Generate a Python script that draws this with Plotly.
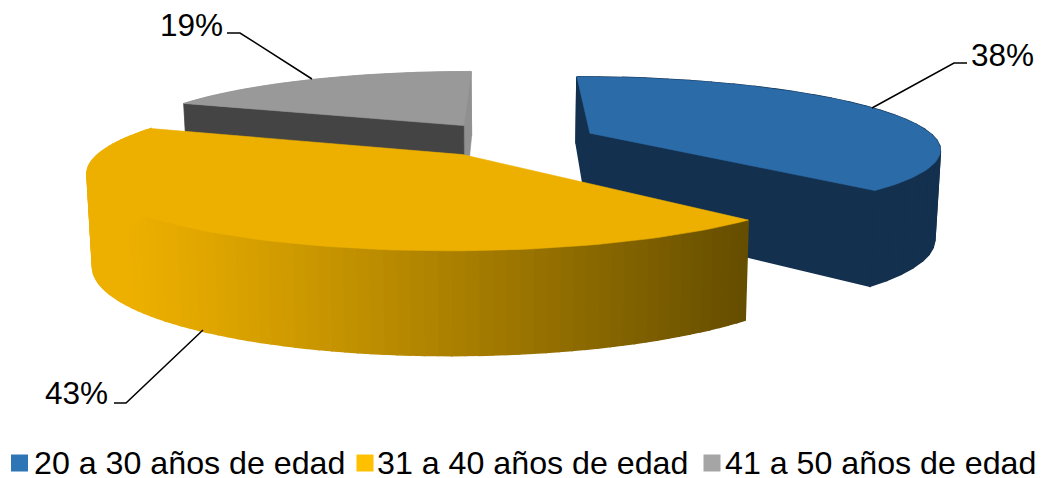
import math
import plotly.graph_objects as go

categories = ["20 a 30 años de edad", "31 a 40 años de edad", "41 a 50 años de edad"]
shares = [38, 43, 19]
legend_colors = ["#2E75B6", "#FFC000", "#A5A5A5"]
top_colors = ["#2B6CA8", "#EDB000", "#999999"]
wall_colors = ["#14304F", None, "#909090"]
cut_colors = ["#14304F", None, "#444444"]
slice_dx = [2, 6, 3]
slice_xscale = [0.99, 1.0, 0.97]
label_pos = [(1002, 55), (76, 393), (191, 25)]
leaders = [
    [(872, 108), (954, 63), (967, 63)],
    [(203, 330), (126, 403), (114, 403)],
    [(227, 33), (240, 33), (312, 79)],
]
legend_square_x = [19.5, 365, 712]
legend_text_x = [35, 378, 726]
LEGEND_Y = 463

W, H = 1042, 478
VX, VY, RX, RY, K, SHRINK, EXPLODE = 508, 139.5, 350, 70, 0.2, 0.987, 0.25
FONT = "Liberation Sans, Arial, sans-serif"


def depth(s):
    return 88 * (1 + 0.6 * (s - 1)) if s >= 1 else 88 * (1 - 1.39 * (1 - s))


def project(wx, wy, z, i, off):
    s = 1 / (1 - K * wy)
    m = SHRINK if z else 1
    ax = VX + off[0] * RX * (1 / (1 - K * off[1])) * m
    px = VX + wx * RX * s * m
    return ax + (px - ax) * slice_xscale[i] + slice_dx[i], VY + wy * RY * s + z * depth(s)


def rim(theta, off):
    return off[0] + math.sin(theta), off[1] - math.cos(theta)


def mix(t):
    t = max(0, min(1, t)) ** 1.15
    a, b = (237, 176, 0), (102, 78, 0)
    return "rgb(%d,%d,%d)" % tuple(a[i] + (b[i] - a[i]) * t for i in range(3))


def poly(fig, pts, color, lw=0.6):
    fig.add_trace(go.Scatter(
        x=[p[0] for p in pts] + [pts[0][0]], y=[p[1] for p in pts] + [pts[0][1]],
        mode="lines", fill="toself", fillcolor=color, line=dict(color=color, width=lw),
        hoverinfo="skip", showlegend=False))


fig = go.Figure()
total = sum(shares)
spans, acc = [], 0
for v in shares:
    a0 = acc / total * 2 * math.pi
    acc += v
    a1 = acc / total * 2 * math.pi
    mid = (a0 + a1) / 2
    spans.append((a0, a1, (EXPLODE * math.sin(mid), -EXPLODE * math.cos(mid))))

for i in [2, 0, 1]:
    a0, a1, off = spans[i]
    n = 90
    thetas = [a0 + (a1 - a0) * j / n for j in range(n + 1)]
    top = [project(*rim(t, off), 0, i, off) for t in thetas]
    bottom = [project(*rim(t, off), 1, i, off) for t in thetas]
    apex_t, apex_b = project(off[0], off[1], 0, i, off), project(off[0], off[1], 1, i, off)
    if i == 1:
        for j in range(n):
            c = mix((top[j][0] - 130) / 618)
            poly(fig, [top[j], top[j + 1], bottom[j + 1], bottom[j]], c, 1.5)
    else:
        wall_lw = 1.5 if i == 0 else 0.6
        for j in range(0, n, 3):
            k = min(j + 3, n)
            poly(fig, [top[j], top[k], bottom[k], bottom[j]], wall_colors[i], wall_lw)
        poly(fig, [apex_t, top[-1], bottom[-1], apex_b], wall_colors[i], wall_lw)
        poly(fig, [apex_t, top[0], bottom[0], apex_b], cut_colors[i], wall_lw)
    poly(fig, [apex_t] + top, top_colors[i])

for line in leaders:
    fig.add_trace(go.Scatter(x=[p[0] for p in line], y=[p[1] for p in line], mode="lines",
                             line=dict(color="#000000", width=1.5), hoverinfo="skip", showlegend=False))

fig.add_trace(go.Scatter(x=legend_square_x, y=[LEGEND_Y] * 3, mode="markers", hovertext=categories, hoverinfo="text",
                         marker=dict(symbol="square", size=17, color=legend_colors), showlegend=False))

for v, (x, y) in zip(shares, label_pos):
    fig.add_annotation(x=x, y=y, text=f"{v}%", showarrow=False, xanchor="center", yanchor="middle",
                       font=dict(family=FONT, size=31.5, color="#000000"))
for name, x in zip(categories, legend_text_x):
    fig.add_annotation(x=x, y=LEGEND_Y, text=name, showarrow=False, xanchor="left", yanchor="middle",
                       xshift=-3, height=30, font=dict(family=FONT, size=32.2, color="#000000"))

fig.update_layout(
    width=W, height=H, margin=dict(l=0, r=0, t=0, b=0), paper_bgcolor="white", plot_bgcolor="white",
    xaxis=dict(range=[0, W], visible=False, fixedrange=True),
    yaxis=dict(range=[H, 0], visible=False, fixedrange=True),
    showlegend=False,
)
fig.write_html("out.html", config={"displayModeBar": False},
               post_script="document.body.style.margin='0';document.documentElement.style.overflow='hidden';")
